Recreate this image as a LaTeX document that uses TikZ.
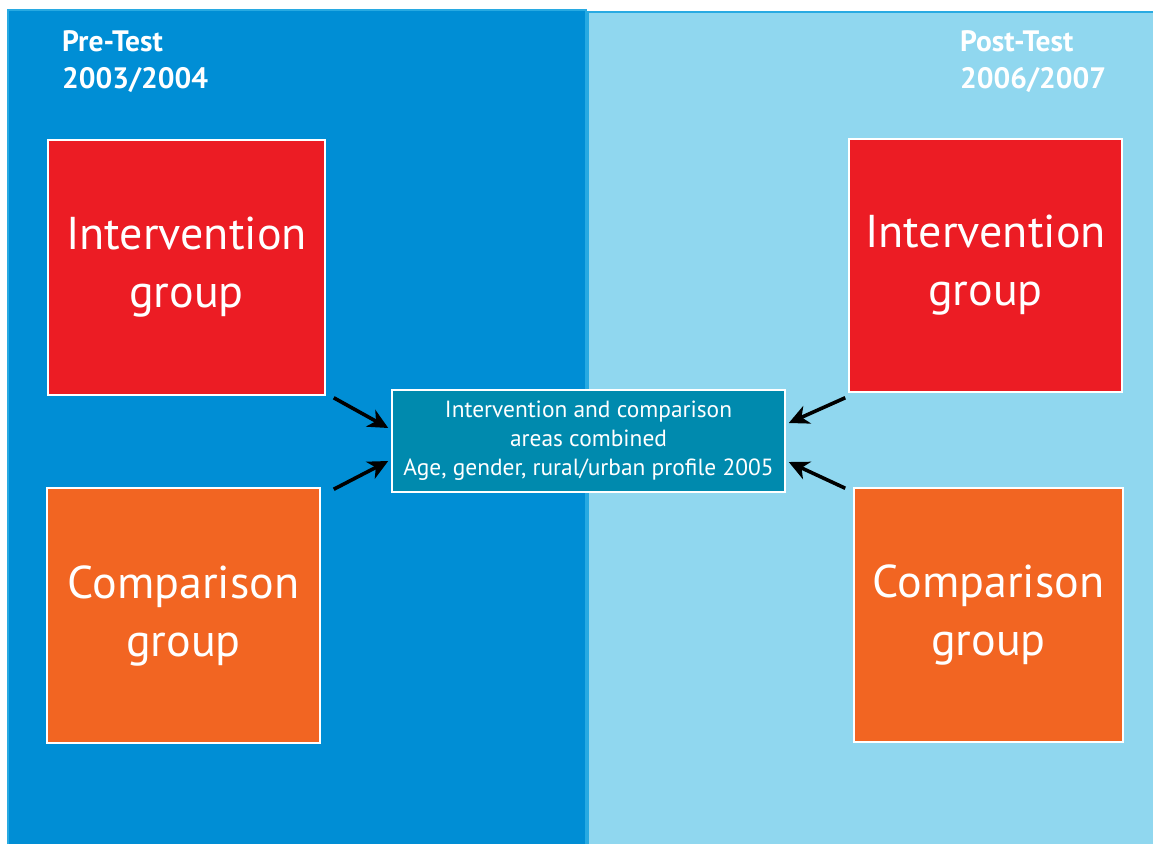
\documentclass[tikz,border=0pt]{standalone}
\usepackage{fontspec}
\setmainfont{PT Sans}
\usetikzlibrary{calc,arrows.meta}

\definecolor{preblue}{RGB}{0,142,213}
\definecolor{postblue}{RGB}{144,215,239}
\definecolor{edgeblue}{RGB}{40,170,226}
\definecolor{groupred}{RGB}{236,28,36}
\definecolor{grouporange}{RGB}{242,101,34}
\definecolor{midteal}{RGB}{0,138,174}

\tikzset{
  groupbox/.style={draw=white,line width=1.5pt,text=white,align=center,inner sep=0pt,
    font=\fontsize{46}{58}\selectfont},
  midbox/.style={draw=white,line width=1.5pt,fill=midteal,text=white,align=center,inner sep=0pt,
    minimum width=393pt,minimum height=102pt,font=\fontsize{23.4}{29}\selectfont},
  header/.style={anchor=north west,text=white,align=left,inner sep=0pt,
    font=\fontsize{29.5}{37}\selectfont\bfseries},
  link/.style={line width=3.6pt,-{Stealth[length=20pt,width=19pt,inset=6pt]},black}
}

\begin{document}
\begin{tikzpicture}[x=1pt,y=-1pt]
\useasboundingbox (0,0) rectangle (1153,844);
\fill [white] (0,0) rectangle (1153,844);

% the two periods
\fill [preblue] (8,10) rectangle (586,844);
\draw [edgeblue,line width=1.5pt] (8,844) -- (8,10) -- (586,10) -- (586,844);
\fill [postblue] (588,12) rectangle (1153,844);
\draw [edgeblue,line width=1.5pt] (588,844) -- (588,12) -- (1153,12);

\node [header] at (62,30) (pre) {Pre-Test\\2003/2004};
\node [header] at (960,30) (post) {Post-Test\\2006/2007};

% groups
\node [groupbox,fill=groupred,minimum width=277pt,minimum height=255pt] at (186.5,267.5) (li) {Intervention\\group};
\node [groupbox,fill=grouporange,minimum width=273pt,minimum height=255pt] at (183.5,615.5) (lc) {Comparison\\group};
\node [groupbox,fill=groupred,minimum width=273pt,minimum height=253pt] at (985.5,265.5) (ri) {Intervention\\group};
\node [groupbox,fill=grouporange,minimum width=269pt,minimum height=254pt] at (988.5,615) (rc) {Comparison\\group};

\node [midbox] at (588.5,441) (mid) {Intervention and comparison\\areas combined\\Age, gender, rural/urban profile 2005};

\draw [link] ([shift={(8,2)}]li.south east) to ([shift={(-3,-13)}]mid.west);
\draw [link] ([shift={(13,2)}]lc.north east) to ([shift={(-3,20)}]mid.west);
\draw [link] ([shift={(-3,5)}]ri.south west) to ([shift={(3,-18)}]mid.east);
\draw [link] ([shift={(-8,1)}]rc.north west) to ([shift={(3,21)}]mid.east);

\end{tikzpicture}
\end{document}
